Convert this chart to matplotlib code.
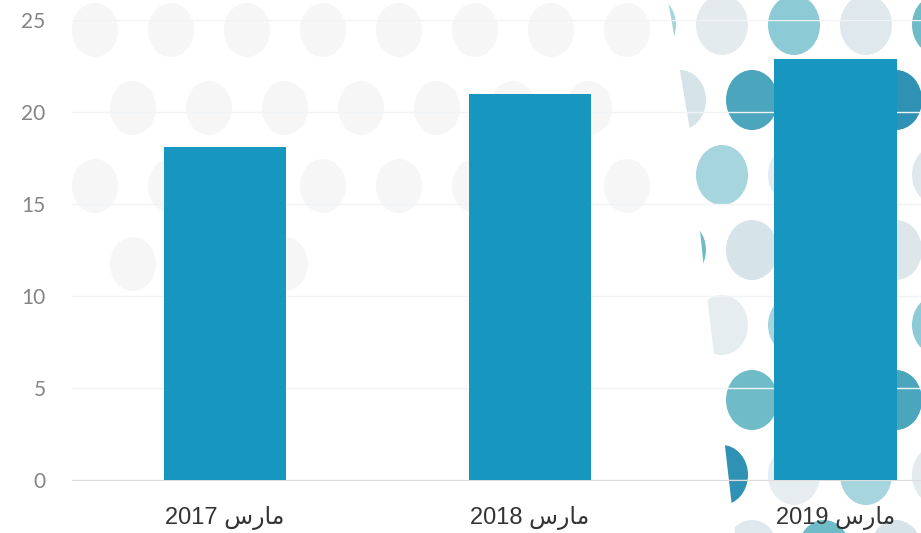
import matplotlib.pyplot as plt
from matplotlib.patches import Ellipse, Polygon

months = ["2017", "2018", "2019"]
values = [18.1, 21.0, 22.9]
y_ticks = [0, 5, 10, 15, 20, 25]

# "مارس" in presentation forms, visual order (matplotlib does no Arabic shaping)
mars = "\uFEB1\uFEAD\uFE8E\uFEE3"
labels = [m + " " + mars for m in months]

bar_color = "#1796C0"

fig = plt.figure(figsize=(9.21, 5.33), dpi=100)
W, H = 921, 533

# background decoration in pixel coords (y from top)
bg = fig.add_axes([0, 0, 1, 1], zorder=0)
bg.set_xlim(0, W)
bg.set_ylim(H, 0)
bg.axis("off")

# faint grey dots over the upper left part
for r, yc in enumerate(range(30, 330, 78)):
    off = 0 if r % 2 == 0 else 38
    for xc in range(95 + off, 660, 76):
        if yc > 200 and xc > 300:
            continue
        bg.add_patch(Ellipse((xc, yc), 46, 54, color="#f6f6f6", lw=0))

# teal dots on the right, clipped to a curved band
band = Polygon([(668, 0), (690, 130), (705, 280), (722, 420), (735, H),
                (W, H), (W, 0)], closed=True, transform=bg.transData)
teals = ["#a6d5de", "#dde7eb", "#6fbcc8", "#e3ebee", "#2f91b3", "#d6e3e8",
         "#8ccbd5", "#e6edf0", "#4aa5bd", "#dfe8ec"]
k = 0
for r, yc in enumerate(range(25, 560, 75)):
    off = 0 if r % 2 == 0 else 30
    for xc in range(650 + off, 960, 72):
        e = Ellipse((xc, yc), 52, 60, color=teals[k % len(teals)], lw=0)
        k += 3
        bg.add_patch(e)
        e.set_clip_path(band)

ax = fig.add_axes([72 / W, 53 / H, 1 - 72 / W, (480 - 20) / H], zorder=1)
ax.patch.set_alpha(0)

x = range(len(months))
ax.bar(x, values, width=0.4, color=bar_color, zorder=3)

ax.set_xlim(-0.5, 2.28)
ax.set_ylim(0, 25)
ax.set_yticks(y_ticks)
ax.set_xticks(list(x))
ax.set_xticklabels(labels, family=["Liberation Sans", "DejaVu Sans"],
                   fontsize=17, color="#333333")
for t in ax.get_yticklabels():
    t.set_family("Lato")
    t.set_fontsize(15)
    t.set_color("#858585")

ax.tick_params(axis="both", length=0)
ax.tick_params(axis="y", pad=19)
ax.tick_params(axis="x", pad=19)
ax.grid(axis="y", color="#f0f4f6", lw=1, zorder=0)
for s in ["top", "right", "left"]:
    ax.spines[s].set_visible(False)
ax.spines["bottom"].set_color("#dddddd")

fig.savefig("out.png", dpi=100)
